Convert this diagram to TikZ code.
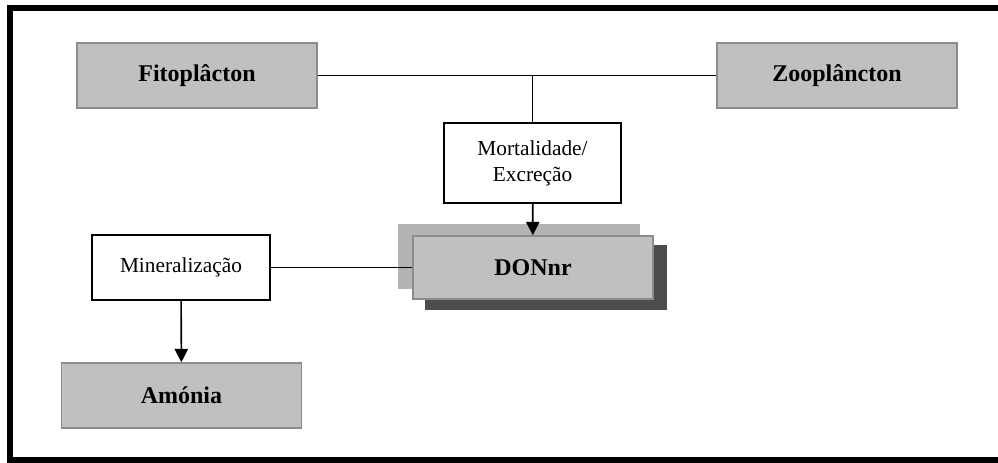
\documentclass[tikz,border=0pt]{standalone}
\usepackage{fontspec}
\setmainfont{Liberation Serif}
\usetikzlibrary{arrows.meta,positioning,backgrounds}

\definecolor{caixa}{HTML}{C0C0C0}
\definecolor{bordacaixa}{HTML}{8C8C8C}
\definecolor{sombraclara}{HTML}{B3B3B3}
\definecolor{sombraescura}{HTML}{4D4D4D}

\begin{document}
\begin{tikzpicture}[
    x=0.75pt, y=-0.75pt,
    >={Triangle[width=10pt,length=10pt]},
    compartimento/.style={rectangle, draw=bordacaixa, line width=1.2pt, fill=caixa, minimum width=180pt, minimum height=48.75pt, font=\fontsize{18}{21}\selectfont\bfseries},
    processo/.style={rectangle, draw=black, line width=1.2pt, fill=white, minimum width=133pt, align=center, font=\fontsize{16}{19.5}\selectfont},
    ligacao/.style={draw=black, line width=1.2pt},
    seta/.style={->, ligacao}
]
\useasboundingbox (0,0) rectangle (998,462);

% Moldura (aberta a direita)
\draw[line width=4.5pt] (1000,8) -- (10,8) -- (10,460) -- (1000,460);

% Compartimentos
\node[compartimento] (fito) at (197,75.5) {Fitoplâcton};
\node[compartimento] (zoo) at (837,75.5) {Zooplâncton};
\node[compartimento, minimum height=47.25pt] (donnr) at (533,267.5) {DONnr};
\node[compartimento] (amonia) at (181.5,395.5) {Amónia};

% Processos
\node[processo, minimum width=132.75pt, minimum height=60pt] (mort) at (532.5,163) {Mortalidade/\\Excreção};
\node[processo, minimum width=133.5pt, minimum height=48.75pt] (mineral) at (181,267.5) {Mineralização};

% Sombras do DONnr
\begin{scope}[on background layer]
\fill[sombraclara] ([shift={(-14,-11)}]donnr.south west) rectangle ([shift={(-14,-11)}]donnr.north east);
\fill[sombraescura] ([shift={(13,10)}]donnr.south west) rectangle ([shift={(13,10)}]donnr.north east);
\end{scope}

% Ligacoes
\coordinate (juncao) at (mort.north |- fito.east);
\draw[ligacao] (fito) -- (zoo);
\draw[ligacao] (juncao) -- (mort);
\draw[seta] (mort) -- (donnr);
\draw[ligacao] (mineral) -- (donnr);
\draw[seta] (mineral) -- (amonia);

\end{tikzpicture}
\end{document}
